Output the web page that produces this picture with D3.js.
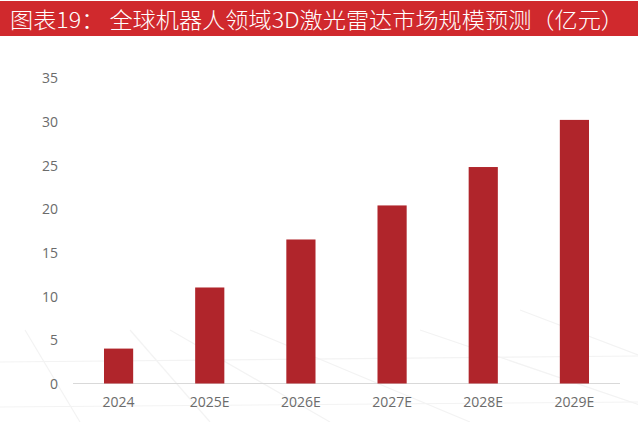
<!DOCTYPE html>
<html lang="zh">
<head>
<meta charset="utf-8">
<title>图表19</title>
<style>
	body { margin: 0; background: #fff; }
	svg { display: block; font-family: "Noto Sans CJK SC", "Noto Sans", sans-serif; }
	.axis text { fill: #6b6b6b; font-size: 14px; font-family: "Open Sans", "Noto Sans", sans-serif; }
	.axis path, .axis line { stroke: none; }
</style>
</head>
<body>
<svg id="chart" width="638" height="422"></svg>
<script src="https://cdn.jsdelivr.net/npm/d3@7/dist/d3.min.js"></script>
<script>
"use strict";

var years = ["2024", "2025E", "2026E", "2027E", "2028E", "2029E"];
var market = [4.0, 11.0, 16.5, 20.4, 24.8, 30.2];
var yTicks = [0, 5, 10, 15, 20, 25, 30, 35];
var title = "图表19： 全球机器人领域3D激光雷达市场规模预测（亿元）";

var svg = d3.select("#chart");
var plotL = 73, plotR = 620, plotT = 78, plotB = 383.5;

// faint background grid, like the template picture behind the chart
var deco = svg.append("g").attr("stroke", "#f3f3f3").attr("stroke-width", 1.2).attr("fill", "none");
[[0, 362, 638, 356], [0, 407, 638, 402], [25, 330, 80, 422], [130, 330, 210, 422],
 [170, 330, 330, 422], [250, 330, 470, 422], [420, 330, 640, 405], [520, 310, 638, 355]]
	.forEach(function(l){
		deco.append("line").attr("x1", l[0]).attr("y1", l[1]).attr("x2", l[2]).attr("y2", l[3]);
	});

// title bar
svg.append("rect").attr("x", 0).attr("y", 1).attr("width", 638).attr("height", 35).attr("fill", "#d0292d");
svg.append("text").attr("x", 10).attr("y", 28).attr("fill", "#fff")
	.attr("textLength", 614).attr("lengthAdjust", "spacingAndGlyphs")
	.style("font-size", "22px").style("font-weight", 300).text(title);

var x = d3.scaleBand().domain(years).range([plotL, plotR]).paddingInner(0.68).paddingOuter(0.34);
var y = d3.scaleLinear().domain([0, 35]).range([plotB, plotT]);

svg.append("g").attr("class", "axis")
	.attr("transform", "translate(" + (plotL - 15) + ",0)")
	.call(d3.axisLeft(y).tickValues(yTicks).tickSize(0).tickPadding(0))
	.selectAll("text").attr("dy", "0.35em");

svg.append("line").attr("x1", plotL).attr("x2", plotR).attr("y1", plotB).attr("y2", plotB)
	.attr("stroke", "#d9d9d9").attr("stroke-width", 1);

svg.append("g").attr("class", "axis")
	.attr("transform", "translate(0," + plotB + ")")
	.call(d3.axisBottom(x).tickSize(0).tickPadding(14));

svg.selectAll("rect.bar")
	.data(market)
	.enter()
	.append("rect")
	.attr("class", "bar")
	.attr("x", function(d, i){ return x(years[i]); })
	.attr("y", function(d){ return y(d); })
	.attr("width", x.bandwidth())
	.attr("height", function(d){ return plotB - y(d); })
	.attr("fill", "#b0252b");
</script>
</body>
</html>
